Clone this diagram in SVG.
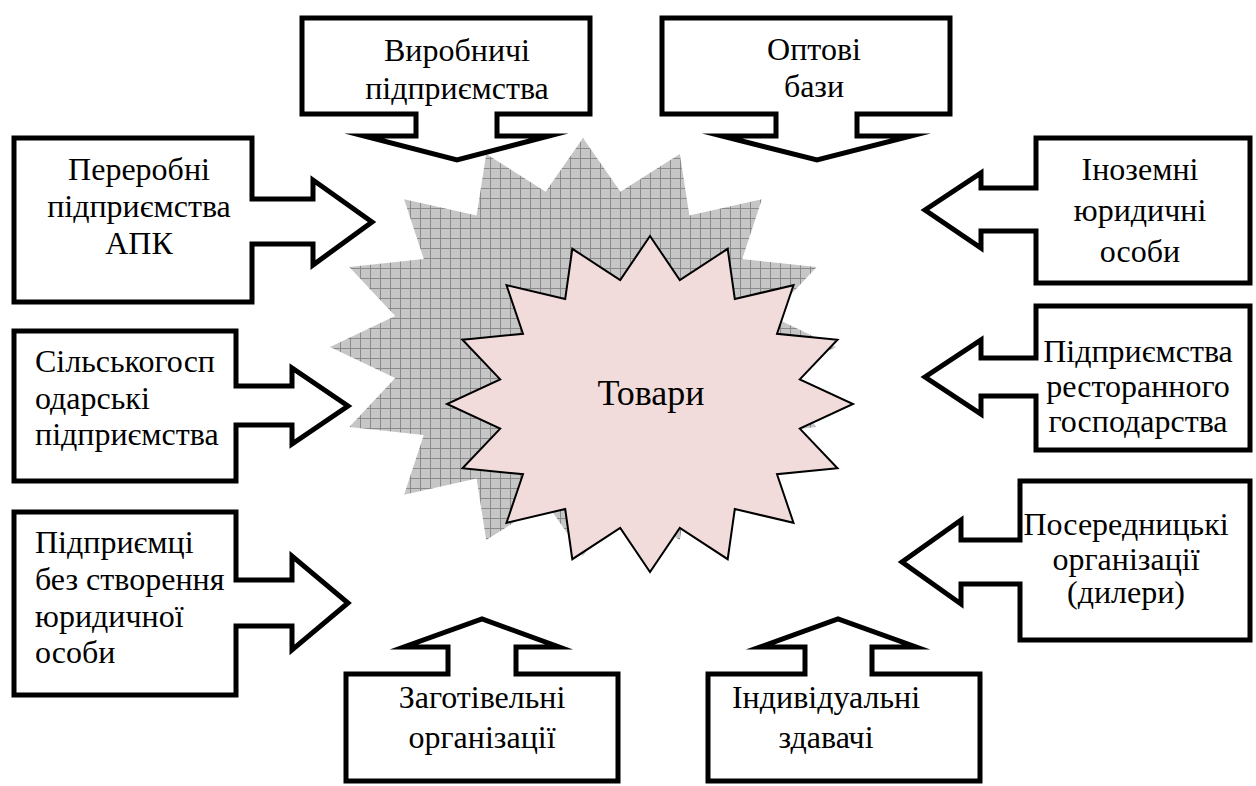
<svg xmlns="http://www.w3.org/2000/svg" width="1256" height="786" viewBox="0 0 1256 786">
<defs>
<pattern id="grid" patternUnits="userSpaceOnUse" x="0" y="8" width="10" height="10">
<rect width="10" height="10" fill="#c6c6c6"/>
<path d="M0.5,0 V10 M0,0.5 H10" stroke="#8a8a8a" stroke-width="1"/>
</pattern>
</defs>
<style>
.call{fill:#fff;stroke:#000;stroke-width:5;stroke-linejoin:miter;stroke-miterlimit:10}
.t{font-family:"Liberation Serif","Times New Roman",serif;font-size:32px;fill:#000}
.c{text-anchor:middle}
.big{font-family:"Liberation Serif","Times New Roman",serif;font-size:36px;fill:#000;text-anchor:middle}
</style>
<rect width="1256" height="786" fill="#fff"/>
<g id="shadow-star">
<polygon fill="url(#grid)" points="583,138 620.4,191.8 679.8,153.9 689.4,215.5 761.9,199.2 742.2,259.1 816.7,267 770.8,316.1 836,347 770.8,377.9 816.7,427 742.2,434.9 761.9,494.8 689.4,478.5 679.8,540.1 620.4,502.2 583,556 545.6,502.2 486.2,540.1 476.6,478.5 404.1,494.8 423.8,434.9 349.3,427 395.2,377.9 330,347 395.2,316.1 349.3,267 423.8,259.1 404.1,199.2 476.6,215.5 486.2,153.9 545.6,191.8"/>
</g>
<g id="goods">
<polygon fill="#f2dcdb" stroke="#000" stroke-width="2" points="650,236 679.8,280.1 727.7,248.8 734.8,299 793.5,285.2 777,333.8 837.5,339.7 799.8,379.4 853,404 799.8,428.6 837.5,468.3 777,474.2 793.5,522.8 734.8,509 727.7,559.2 679.8,527.9 650,572 620.2,527.9 572.3,559.2 565.2,509 506.5,522.8 523,474.2 462.5,468.3 500.2,428.6 447,404 500.2,379.4 462.5,339.7 523,333.8 506.5,285.2 565.2,299 572.3,248.8 620.2,280.1"/>
<text class="big" x="651" y="405">Товари</text>
</g>
<g id="connectors"></g>
<g id="n-pererobni">
<path class="call" d="M14,138 H252 V199 H313 V180 L372,222 L313,265 V244 H252 V302 H14 Z"/>
<text class="t c" x="139" y="180">Переробні</text>
<text class="t c" x="139" y="217">підприємства</text>
<text class="t c" x="139" y="254">АПК</text>
</g>
<g id="n-silsko">
<path class="call" d="M14,331 H236 V386 H292 V368 L348,406 L292,444 V425 H236 V481 H14 Z"/>
<text class="t" x="35" y="372">Сільськогосп</text>
<text class="t" x="35" y="409">одарські</text>
<text class="t" x="35" y="445">підприємства</text>
</g>
<g id="n-pidpryiemtsi">
<path class="call" d="M14,512 H236 V580 H292 V556 L348,603 L292,650 V626 H236 V695 H14 Z"/>
<text class="t" x="35" y="553">Підприємці</text>
<text class="t" x="35" y="590">без створення</text>
<text class="t" x="35" y="627">юридичної</text>
<text class="t" x="35" y="663">особи</text>
</g>
<g id="n-vyrobnychi">
<path class="call" d="M302,18 H590 V114 H497 V136 H549 L457,160 L364,136 H416 V114 H302 Z"/>
<text class="t c" x="457" y="61">Виробничі</text>
<text class="t c" x="457" y="99">підприємства</text>
</g>
<g id="n-optovi">
<path class="call" d="M662,18 H950 V114 H857 V136 H911 L817,160 L722,136 H776 V114 H662 Z"/>
<text class="t c" x="814" y="60">Оптові</text>
<text class="t c" x="814" y="97">бази</text>
</g>
<g id="n-inozemni">
<path class="call" d="M1036,138 H1250 V283 H1036 V231 H981 V248 L925,210 L981,173 V188 H1036 Z"/>
<text class="t c" x="1140" y="180">Іноземні</text>
<text class="t c" x="1140" y="221">юридичні</text>
<text class="t c" x="1140" y="262">особи</text>
</g>
<g id="n-restoran">
<path class="call" d="M1036,306 H1250 V450 H1036 V396 H981 V414 L925,377 L981,340 V358 H1036 Z"/>
<text class="t c" x="1138" y="362">Підприємства</text>
<text class="t c" x="1138" y="397">ресторанного</text>
<text class="t c" x="1138" y="432">господарства</text>
</g>
<g id="n-poserednytski">
<path class="call" d="M1020,481 H1250 V640 H1020 V584 H961 V604 L902,562 L961,520 V540 H1020 Z"/>
<text class="t c" x="1126" y="535">Посередницькі</text>
<text class="t c" x="1126" y="570">організації</text>
<text class="t c" x="1126" y="603">(дилери)</text>
</g>
<g id="n-zahotivelni">
<path class="call" d="M346,674 H448 V647 H404 L482,619 L559,647 H516 V674 H618 V781 H346 Z"/>
<text class="t c" x="482" y="708">Заготівельні</text>
<text class="t c" x="482" y="748">організації</text>
</g>
<g id="n-indyvidualni">
<path class="call" d="M708,674 H805 V647 H760 L838,619 L916,647 H872 V674 H980 V781 H708 Z"/>
<text class="t c" x="826" y="708">Індивідуальні</text>
<text class="t c" x="826" y="748">здавачі</text>
</g>
</svg>
